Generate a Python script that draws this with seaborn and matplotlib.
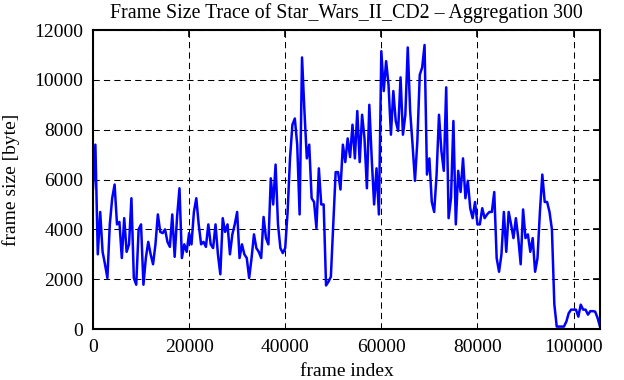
import matplotlib
matplotlib.use("Agg")
import matplotlib.pyplot as plt
import seaborn as sns
import numpy as np
import pandas as pd

# aggregated frame sizes, every 500 frames
frame_step = 500
frame_size = [
    5600, 7400, 3000, 4700, 3100, 2600, 2050, 4200, 5250, 5800,
    4200, 4300, 2850, 4450, 3100, 3400, 5250, 2050, 1780, 4000,
    4200, 1780, 2850, 3500, 3000, 2600, 3400, 4600, 3900, 3850,
    4000, 3500, 3300, 4600, 2900, 4500, 5650, 2850, 3400, 3100,
    3850, 3400, 4700, 5250, 4200, 3400, 3500, 3300, 4200, 3400,
    3250, 4200, 3000, 2200, 4450, 3900, 4200, 3000, 3800, 4200,
    4700, 2850, 3400, 3000, 2850, 2050, 2850, 3800, 3250, 3100,
    2850, 4500, 3650, 3400, 6050, 5000, 6600, 4200, 3250, 3050,
    3250, 4700, 6850, 8200, 8450, 7400, 4600, 10900, 8750, 6850,
    7400, 5250, 5100, 4050, 6450, 5000, 5000, 1750, 1900, 2100,
    4200, 6300, 6300, 5600, 7400, 6700, 7650, 6900, 8200, 6850,
    8750, 6700, 8600, 7650, 5650, 9000, 6850, 5000, 6450, 4600,
    11150, 9550, 10750, 9800, 7800, 9550, 8350, 7950, 10100, 7800,
    8600, 11300, 8750, 7400, 5950, 7550, 10200, 10500, 11400, 6200,
    6850, 5100, 4700, 6200, 8600, 7150, 6350, 9700, 4450, 5250,
    8350, 4200, 6350, 5500, 6850, 5250, 5950, 4850, 4450, 5100,
    4200, 4200, 4850, 4450, 4600, 4700, 4700, 5500, 2850, 2300,
    3000, 4700, 3100, 4700, 4200, 3650, 4450, 3650, 2600, 4800,
    3650, 3800, 3100, 3650, 2300, 2850, 4700, 6200, 5100, 5100,
    4700, 4000, 1000, 100, 100, 100, 100, 300, 640, 780,
    780, 780, 500, 980, 780, 780, 580, 720, 720, 700,
    450, 100,
]

x_ticks = [0, 20000, 40000, 60000, 80000, 100000]
y_ticks = [0, 2000, 4000, 6000, 8000, 10000, 12000]

df = pd.DataFrame({
    'frame index': np.arange(len(frame_size)) * frame_step,
    'frame size [byte]': frame_size,
})

sns.set_theme(style="white")
plt.rcParams['font.family'] = ['Liberation Serif', 'DejaVu Serif']
plt.rcParams['text.color'] = 'black'
plt.rcParams['axes.labelcolor'] = 'black'

fig = plt.figure(figsize=(6.24, 3.80), dpi=100)
ax = fig.add_axes([0.149, 0.134, 0.8125, 0.787])

sns.lineplot(
    data=df,
    x='frame index',
    y='frame size [byte]',
    estimator=None,
    color='#0000ff',
    linewidth=1.8,
    ax=ax
)

ax.set_xlim(0, df['frame index'].max())
ax.set_ylim(0, 12000)
ax.set_xticks(x_ticks)
ax.set_yticks(y_ticks)

ax.grid(True, color='black', linestyle=(0, (6, 4)), linewidth=0.75)

for side in ax.spines.values():
    side.set_color('black')
    side.set_linewidth(1.5)

ax.tick_params(
    direction='in',
    length=5,
    width=1.2,
    top=True,
    right=True,
    labelsize=14,
    pad=7,
    colors='black'
)

ax.set_title(
    'Frame Size Trace of Star_Wars_II_CD2 \u2013 Aggregation 300',
    fontsize=14.3,
    pad=9,
    color='black'
)
ax.set_xlabel('frame index', fontsize=14, labelpad=5.5)
ax.set_ylabel('frame size [byte]', fontsize=14, labelpad=10)

fig.savefig('out.png', dpi=100)
